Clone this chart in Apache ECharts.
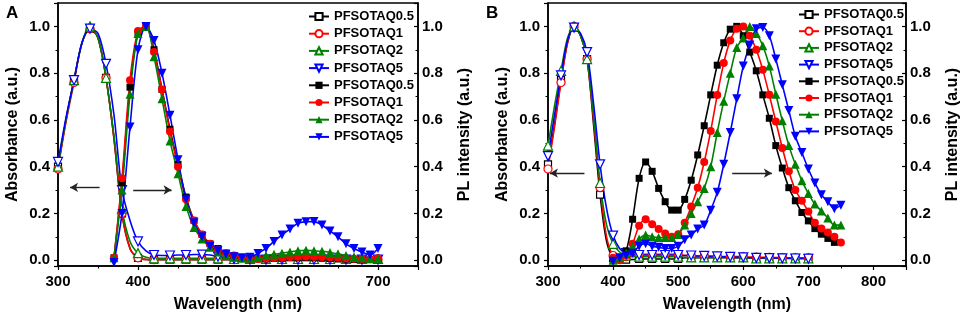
<!DOCTYPE html>
<html>
<head>
<meta charset="utf-8">
<script src="https://cdn.jsdelivr.net/npm/echarts@6/dist/echarts.min.js"></script>
<style>
  html, body { margin: 0; padding: 0; background: #fff; }
  #main { width: 962px; height: 318px; }
</style>
</head>
<body>
<div id="main"></div>
<script>
// wavelengths (nm)
const absWl = [300,310,320,330,340,350,360,370,380,390,400,410,420,430,440,450,460,470,480,490,500,
               510,520,530,540,550,560,570,580,590,600,610,620,630,640,650,660,670,680,690,700];
const plWlA = [370,380,390,400,410,420,430,440,450,460,470,480,490,500,510,520,530,540,550,560,570,
               580,590,600,610,620,630,640,650,660,670,680,690,700];
const plWlB = [400,410,420,430,440,450,460,470,480,490,500,510,520,530,540,550,560,570,580,590,600,
               610,620,630,640,650,660,670,680,690,700,710,720,730,740,750];

const names = ['PFSOTAQ0.5', 'PFSOTAQ1', 'PFSOTAQ2', 'PFSOTAQ5'];
// filled-symbol (PL) entries carry a trailing space so the legend keeps both sets
const namesPL = ['PFSOTAQ0.5 ', 'PFSOTAQ1 ', 'PFSOTAQ2 ', 'PFSOTAQ5 '];

// panel A - absorbance
const absA05 = [0.40,0.60,0.77,0.93,0.99,0.95,0.78,0.52,0.20,0.05,0.01,0.003,0.002,
  0.002,0.002,0.002,0.002,0.002,0.002,0.002,0.002,0.002,0.002,0.002,0.002,0.002,0.002,
  0.002,0.002,0.002,0.002,0.002,0.002,0.002,0.002,0.002,0.002,0.002,0.002,0.002,0.002];
const absA1 = [0.39,0.59,0.76,0.93,0.99,0.95,0.78,0.52,0.20,0.05,0.01,0.003,0.002,
  0.003,0.003,0.003,0.003,0.003,0.003,0.003,0.003,0.003,0.003,0.003,0.003,0.003,0.003,
  0.003,0.003,0.003,0.003,0.003,0.003,0.003,0.003,0.003,0.003,0.003,0.003,0.003,0.003];
const absA2 = [0.40,0.60,0.77,0.93,1.0,0.95,0.78,0.53,0.22,0.08,0.03,0.012,0.008,
  0.008,0.008,0.008,0.008,0.008,0.008,0.008,0.008,
  0.005,0.005,0.005,0.005,0.005,0.005,0.005,0.005,0.005,0.005,
  0.005,0.005,0.005,0.005,0.005,0.005,0.005,0.005,0.005,0.005];
const absA5 = [0.42,0.61,0.77,0.93,0.99,0.97,0.84,0.62,0.30,0.17,0.08,0.04,0.022,
  0.02,0.02,0.022,0.022,0.024,0.024,0.022,0.015,0.01,0.005,
  0.002,0.002,0.002,0.002,0.002,0.002,0.002,0.002,0.002,0.002,0.002,0.002,0.002,0.002,0.002,0.002,0.002,0.002];

// panel A - PL
const plA05 = [0.01,0.33,0.74,0.97,1.0,0.90,0.73,0.56,0.41,0.27,0.17,0.11,0.07,0.05,0.03,0.02,0.01,
  0.005,0.005,0.005,0.007,0.008,0.01,0.01,0.01,0.01,0.008,0.007,0.005,0.004,0.003,0.003,0.002,0.002];
const plA1 = [0.01,0.35,0.77,0.98,1.0,0.89,0.73,0.55,0.40,0.26,0.17,0.11,0.07,0.045,0.03,0.02,0.01,
  0.005,0.005,0.007,0.009,0.011,0.013,0.015,0.016,0.015,0.014,0.012,0.01,0.008,0.006,0.005,0.004,0.008];
const plA2 = [0.01,0.30,0.71,0.97,1.0,0.87,0.69,0.51,0.37,0.23,0.14,0.09,0.055,0.035,0.02,0.012,0.008,
  0.008,0.015,0.02,0.025,0.03,0.035,0.04,0.042,0.04,0.038,0.033,0.027,0.02,0.015,0.01,0.007,0.005];
const plA5 = [-0.01,0.20,0.57,0.90,1.0,0.94,0.80,0.62,0.43,0.26,0.16,0.10,0.06,0.04,0.025,0.015,0.01,
  0.012,0.029,0.05,0.08,0.108,0.133,0.158,0.164,0.165,0.15,0.125,0.10,0.07,0.05,0.035,0.022,0.05];

// panel B - absorbance
const absB05 = [0.41,0.58,0.77,0.93,0.995,0.96,0.86,0.58,0.28,0.08,0.01,0.0,0.002,0.003,
  0.005,0.005,0.005,0.005,0.005,0.005,0.005,
  0.01,0.01,0.01,0.01,0.01,0.01,0.01,0.01,0.01,0.01,
  0.01,0.01,0.01,0.01,0.01,0.01,0.01,0.01,0.01,0.01];
const absB1 = [0.39,0.57,0.76,0.93,1.0,0.96,0.86,0.60,0.31,0.10,0.02,0.01,0.015,0.02,
  0.025,0.025,0.025,0.025,0.025,0.025,0.025,
  0.02,0.02,0.018,0.018,0.016,0.016,0.015,0.015,0.015,0.015,
  0.013,0.013,0.012,0.012,0.011,0.011,0.01,0.01,0.01,0.01];
const absB2 = [0.49,0.66,0.81,0.95,1.0,0.96,0.86,0.62,0.33,0.15,0.07,0.035,0.02,0.015,
  0.015,0.015,0.015,0.015,0.015,0.015,0.015,
  0.012,0.012,0.012,0.012,0.012,0.012,0.012,0.012,0.012,0.012,
  0.008,0.008,0.008,0.008,0.008,0.008,0.008,0.008,0.008,0.008];
const absB5 = [0.445,0.62,0.79,0.94,0.995,0.97,0.89,0.67,0.41,0.22,0.105,0.05,0.03,0.025,
  0.022,0.022,0.022,0.022,0.022,0.022,0.022,
  0.02,0.02,0.018,0.018,0.016,0.016,0.014,0.014,0.012,0.012,
  0.01,0.01,0.009,0.009,0.008,0.008,0.007,0.007,0.006,0.006];

// panel B - PL (PFSOTAQ0.5 stops at 740 nm)
const plB05 = [0.0,0.01,0.04,0.175,0.35,0.42,0.38,0.307,0.25,0.214,
  0.214,0.26,0.342,0.45,0.575,0.707,0.834,0.93,0.988,1.0,
  0.96,0.89,0.81,0.707,0.607,0.49,0.394,0.31,0.254,0.204,
  0.168,0.135,0.111,0.093,0.076];
const plB1 = [0.01,0.0,0.02,0.07,0.147,0.175,0.154,0.133,0.114,0.10,
  0.111,0.16,0.23,0.31,0.42,0.553,0.706,0.843,0.94,0.99,
  1.0,0.96,0.90,0.814,0.707,0.593,0.48,0.38,0.30,0.254,
  0.208,0.16,0.135,0.118,0.10,0.075];
const plB2 = [0.0,0.01,0.03,0.06,0.09,0.108,0.10,0.097,0.097,0.097,
  0.11,0.15,0.20,0.25,0.307,0.40,0.546,0.68,0.80,0.91,
  0.95,1.0,0.97,0.917,0.83,0.71,0.596,0.49,0.41,0.34,
  0.285,0.24,0.21,0.18,0.15,0.15];
const plB5 = [-0.005,0.01,0.02,0.03,0.06,0.07,0.06,0.055,0.05,0.05,
  0.06,0.087,0.108,0.133,0.15,0.214,0.29,0.41,0.546,0.69,
  0.83,0.92,0.99,0.995,0.96,0.86,0.75,0.64,0.53,0.46,
  0.39,0.33,0.28,0.25,0.22,0.235];

// arrow annotations: [from, to, level]
const arrowsA = [[352, 315, 0.311], [394, 442, 0.30]];
const arrowsB = [[356, 303, 0.372], [583, 644, 0.372]];

const FONT = 'Liberation Sans, Arial, sans-serif';
const colors = ['#000000', '#ff0000', '#008000', '#0000ff'];
const symbols = ['rect', 'circle', 'triangle', 'path://M0,0L10,0L5,9Z'];
const sizes = [7, 8, 9, 9];

function pairs(xs, ys, every) {
  return ys.map((v, i) => {
    const item = { value: [xs[i], v] };
    if (every && xs[i] % every !== 0) item.symbol = 'none';
    return item;
  });
}

function line(name, xs, ys, k, open, gi) {
  return {
    type: 'line', name: name,
    xAxisIndex: gi, yAxisIndex: gi * 2 + (open ? 0 : 1),
    data: pairs(xs, ys, open ? 20 : 0),
    smooth: 0.3,
    symbol: symbols[k], symbolSize: sizes[k],
    lineStyle: { color: colors[k], width: 1.6 },
    itemStyle: open
      ? { color: '#ffffff', borderColor: colors[k], borderWidth: 1.2 }
      : { color: colors[k], borderColor: colors[k], borderWidth: 0 },
    silent: true,
    z: open ? 2 : 3
  };
}

function arrows(list) {
  return {
    silent: true,
    symbol: ['none', 'arrow'],
    symbolSize: [7, 8],
    label: { show: false },
    lineStyle: { color: '#222', width: 1.4, type: 'solid' },
    data: list.map(a => [{ coord: [a[0], a[2]] }, { coord: [a[1], a[2]] }])
  };
}

function yAx(gi, right) {
  return {
    type: 'value', gridIndex: gi, position: right ? 'right' : 'left',
    min: -0.025, max: 1.1, splitNumber: 5,
    name: right ? 'PL intensity (a.u.)' : 'Absorbance (a.u.)',
    nameLocation: 'middle', nameGap: right ? 39 : 37, nameRotate: 90,
    nameTextStyle: { fontFamily: FONT, fontWeight: 'bold', fontSize: 16, color: '#000' },
    axisLine: { show: true, lineStyle: { color: '#000', width: 1.5 } },
    axisTick: { show: true, inside: right, length: 4, lineStyle: { color: '#000', width: 1.2 } },
    minorTick: { show: true, splitNumber: 2, length: 2.5, lineStyle: { color: '#000' } },
    axisLabel: {
      showMinLabel: false, showMaxLabel: false,
      fontFamily: FONT, fontWeight: 'bold', fontSize: 15, color: '#000',
      margin: right ? 4 : 8,
      formatter: v => (Math.abs(v * 5 - Math.round(v * 5)) > 1e-6 ? '' : v.toFixed(1))
    },
    splitLine: { show: false }
  };
}

function xAx(gi, max) {
  return {
    type: 'value', gridIndex: gi, min: 300, max: max, interval: 100,
    name: 'Wavelength (nm)', nameLocation: 'middle', nameGap: 31,
    nameTextStyle: { fontFamily: FONT, fontWeight: 'bold', fontSize: 16, color: '#000' },
    axisLine: { show: true, onZero: false, lineStyle: { color: '#000', width: 1.5 } },
    axisTick: { show: true, length: 4, lineStyle: { color: '#000', width: 1.2 } },
    minorTick: { show: true, splitNumber: 2, length: 2.5, lineStyle: { color: '#000' } },
    axisLabel: { showMaxLabel: false, fontFamily: FONT, fontWeight: 'bold', fontSize: 15, color: '#000', margin: 8 },
    splitLine: { show: false }
  };
}

function legend(left, top, gap) {
  return {
    orient: 'vertical', left: left, top: top, padding: 0,
    itemWidth: 20, itemHeight: 9, itemGap: gap,
    selectedMode: false,
    data: names.concat(namesPL),
    textStyle: { fontFamily: FONT, fontWeight: 'bold', fontSize: 13, color: '#000', lineHeight: 13 }
  };
}

const chart = echarts.init(document.getElementById('main'));

const series = [];
const absA = [absA05, absA1, absA2, absA5], plA = [plA05, plA1, plA2, plA5];
const absB = [absB05, absB1, absB2, absB5], plB = [plB05, plB1, plB2, plB5];
for (let k = 0; k < 4; k++) series.push(line(names[k], absWl, absA[k], k, true, 0));
for (let k = 0; k < 4; k++) series.push(line(namesPL[k], plWlA, plA[k], k, false, 0));
for (let k = 0; k < 4; k++) series.push(line(names[k], absWl, absB[k], k, true, 1));
for (let k = 0; k < 4; k++) series.push(line(namesPL[k], plWlB, plB[k], k, false, 1));
series[0].markLine = arrows(arrowsA);
series[8].markLine = arrows(arrowsB);

const option = {
  animation: false,
  backgroundColor: '#fff',
  grid: [
    { left: 58, top: 3, width: 360, height: 264, show: true, borderColor: '#000', borderWidth: 1.5 },
    { left: 548, top: 3, width: 360, height: 264, show: true, borderColor: '#000', borderWidth: 1.5 }
  ],
  xAxis: [xAx(0, 750), xAx(1, 850)],
  yAxis: [yAx(0, false), yAx(0, true), yAx(1, false), yAx(1, true)],
  legend: [legend(308, 10, 4.2), legend(798, 8, 3.7)],
  graphic: [
    { type: 'text', left: 6, top: 5, style: { text: 'A', font: 'bold 17px ' + FONT, fill: '#000' } },
    { type: 'text', left: 486, top: 5, style: { text: 'B', font: 'bold 17px ' + FONT, fill: '#000' } }
  ],
  series: series
};

chart.setOption(option);
</script>
</body>
</html>
